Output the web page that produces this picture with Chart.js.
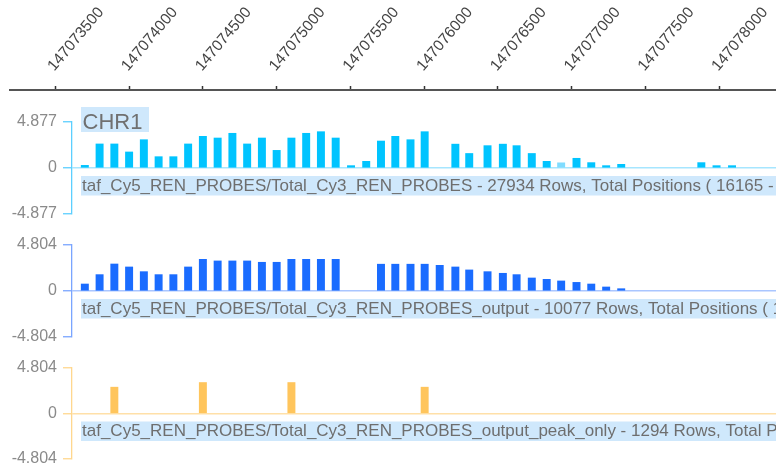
<!DOCTYPE html>
<html><head><meta charset="utf-8">
<script src="https://cdn.jsdelivr.net/npm/chart.js@4/dist/chart.umd.min.js"></script>
<style>
html,body{margin:0;padding:0;background:#fff;}
#wrap{position:relative;width:776px;height:473px;overflow:hidden;}
canvas{position:absolute;left:0;}
</style></head><body>
<div id="wrap">
<canvas id="axis" width="776" height="100" style="top:0px"></canvas>
<canvas id="t1" width="776" height="130" style="top:100px"></canvas>
<canvas id="t2" width="776" height="120" style="top:230px"></canvas>
<canvas id="t3" width="776" height="115" style="top:350px"></canvas>
</div>
<script>
// ---- data ----
const positionTicks = [147073500,147074000,147074500,147075000,147075500,147076000,147076500,147077000,147077500,147078000];
const chromosome = 'CHR1';

const track1Name = 'taf_Cy5_REN_PROBES/Total_Cy3_REN_PROBES - 27934 Rows, Total Positions ( 16165 - ';
const track1Range = 4.877;
const track1Positions = [147073700,147073800,147073900,147074000,147074100,147074200,147074300,147074400,147074500,147074600,
  147074700,147074800,147074900,147075000,147075100,147075200,147075300,147075400,147075504,147075607,
  147075707,147075804,147075907,147076003,147076211,147076305,147076429,147076533,147076626,147076729,
  147076830,147076928,147077032,147077132,147077233,147077335,147077878,147077981,147078086];
const track1Values = [0.28,2.55,2.55,1.70,3.00,1.20,1.20,2.55,3.36,3.18,
  3.68,2.55,3.18,1.87,3.18,3.68,3.85,3.18,0.25,0.71,
  2.86,3.36,3.00,3.85,2.53,1.54,2.37,2.53,2.37,1.54,
  0.71,0.55,1.03,0.57,0.25,0.39,0.57,0.25,0.25];
const track1Selected = [147076928];

const track2Name = 'taf_Cy5_REN_PROBES/Total_Cy3_REN_PROBES_output - 10077 Rows, Total Positions ( 1';
const track2Range = 4.804;
const track2Positions = [147073700,147073800,147073900,147074000,147074100,147074200,147074300,147074400,147074500,147074600,
  147074700,147074800,147074900,147075000,147075100,147075200,147075300,147075400,
  147075707,147075804,147075907,147076003,147076105,147076211,147076305,147076429,147076533,147076626,
  147076729,147076830,147076928,147077032,147077132,147077233,147077335];
const track2Values = [0.73,1.71,2.82,2.51,2.02,1.71,1.71,2.51,3.31,3.14,
  3.14,3.14,3.00,3.00,3.31,3.31,3.31,3.31,
  2.80,2.80,2.80,2.80,2.68,2.51,2.20,2.02,1.85,1.71,
  1.36,1.22,1.05,0.90,0.73,0.42,0.24];

const track3Name = 'taf_Cy5_REN_PROBES/Total_Cy3_REN_PROBES_output_peak_only - 1294 Rows, Total P';
const track3Range = 4.804;
const track3Positions = [147073900,147074500,147075100,147076003];
const track3Values = [2.78,3.27,3.27,2.78];

// ---- view ----
const X_MAX = 147078384;
const AXIS_MIN = 147073193;
const TRACK_MIN = 147073613;
const FONT = '"Liberation Sans", Arial, sans-serif';

const trackLabelPlugin = {
  id: 'trackLabel',
  afterDraw(chart, args, o) {
    if (!o || !o.text) return;
    const ctx = chart.ctx, ca = chart.chartArea;
    const zero = chart.scales.y.getPixelForValue(0);
    ctx.save();
    ctx.fillStyle = '#cfe8fc';
    ctx.fillRect(ca.left + 9, zero + 8, chart.width - ca.left - 9, 19.5);
    ctx.fillStyle = '#6e6e6e';
    ctx.font = '17px ' + FONT;
    ctx.textBaseline = 'alphabetic';
    ctx.textAlign = 'left';
    ctx.fillText(o.text, ca.left + 10, zero + 22.5);
    if (o.chr) {
      ctx.fillStyle = '#cfe8fc';
      ctx.fillRect(ca.left + 9, ca.top - 15, 68, 25);
      ctx.fillStyle = '#707070';
      ctx.font = '22px ' + FONT;
      ctx.fillText(o.chr, ca.left + 10.5, ca.top + 6.5);
    }
    ctx.restore();
  }
};

new Chart(document.getElementById('axis'), {
  type: 'line',
  data: { datasets: [] },
  options: {
    responsive: false, animation: false, devicePixelRatio: 1,
    layout: { padding: { left: 10, right: 0, top: 0, bottom: 0 } },
    plugins: { legend: { display: false }, tooltip: { enabled: false } },
    scales: {
      x: {
        type: 'linear', position: 'top', min: AXIS_MIN, max: X_MAX, offset: false,
        afterBuildTicks: s => { s.ticks = positionTicks.map(v => ({ value: v })); },
        afterFit: s => { s.height = 90; s.paddingLeft = 0; s.paddingRight = 0; },
        border: { display: true, color: '#555555', width: 2 },
        grid: { offset: false, drawOnChartArea: false, drawTicks: true, tickLength: 4, tickColor: '#333333', tickWidth: 1.5 },
        ticks: { autoSkip: false, minRotation: 50, maxRotation: 50, padding: 11, labelOffset: 10, color: '#444444',
          font: { family: FONT, size: 15.5 }, callback: v => String(v) }
      },
      y: { display: false, min: 0, max: 1 }
    }
  }
});

function trackChart(id, positions, values, range, colorFn, axisColor, zeroColor, name, chr, padTop, areaH) {
  const el = document.getElementById(id);
  const padBottom = el.height - padTop - areaH;
  return new Chart(el, {
    type: 'bar',
    data: { datasets: [{
      data: positions.map((p, i) => ({ x: p, y: values[i] })),
      backgroundColor: colorFn, borderWidth: 0, barThickness: 7.3
    }] },
    options: {
      responsive: false, animation: false, devicePixelRatio: 1,
      layout: { padding: { left: 0, right: 0, top: padTop, bottom: padBottom } },
      plugins: { legend: { display: false }, tooltip: { enabled: false },
        trackLabel: { text: name, chr: chr } },
      scales: {
        x: { type: 'linear', display: false, min: TRACK_MIN, max: X_MAX, offset: false },
        y: {
          min: -range, max: range,
          afterBuildTicks: s => { s.ticks = [{ value: -range }, { value: 0 }, { value: range }]; },
          afterFit: s => { s.width = 72; s.paddingTop = 0; s.paddingBottom = 0; },
          border: { display: true, color: axisColor, width: 1.3 },
          grid: { drawOnChartArea: true, drawTicks: true, tickLength: 9,
            color: c => (c.tick && c.tick.value === 0) ? zeroColor : 'rgba(0,0,0,0)',
            lineWidth: 1.5, tickColor: axisColor, tickWidth: 1.3 },
          ticks: { padding: 6, color: '#8a8a8a', font: { family: FONT, size: 16 },
            callback: v => v === 0 ? '0' : Number(v).toFixed(3) }
        }
      }
    },
    plugins: [trackLabelPlugin]
  });
}

trackChart('t1', track1Positions, track1Values, track1Range,
  c => (c.raw && track1Selected.includes(c.raw.x)) ? '#80dcff' : '#00c4ff',
  '#5ccfff', '#a6e6ff', track1Name, chromosome, 22, 92);
trackChart('t2', track2Positions, track2Values, track2Range,
  '#1a6cff', '#7aa5ff', '#aac6ff', track2Name, null, 15, 92);
trackChart('t3', track3Positions, track3Values, track3Range,
  '#ffc55c', '#ffd78e', '#ffe0a8', track3Name, null, 18, 91);
</script>
</body></html>
